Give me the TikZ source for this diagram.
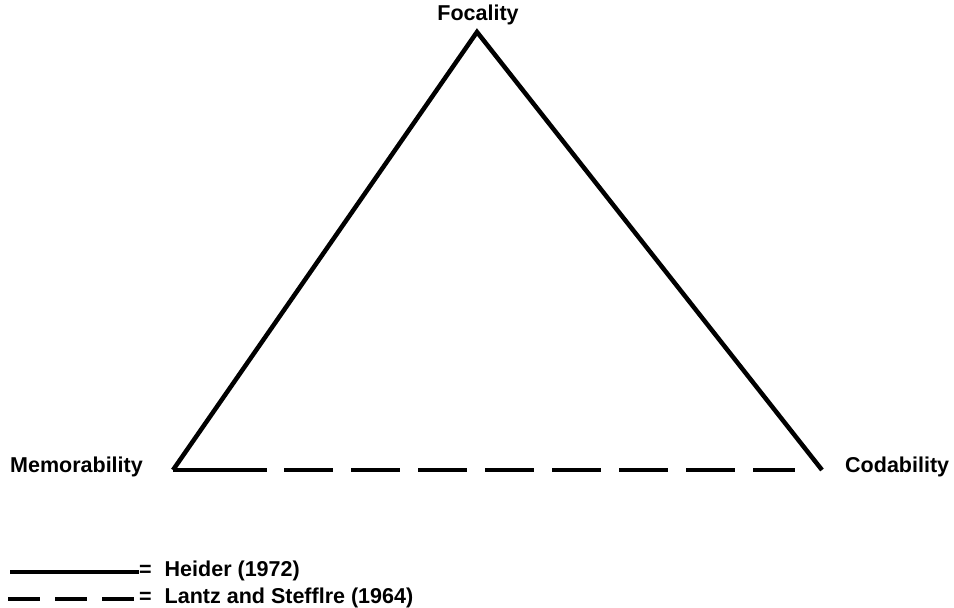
\documentclass[tikz,border=0pt]{standalone}
\usepackage{fontspec}
\setmainfont{Liberation Sans}

\begin{document}
\begin{tikzpicture}[
  font=\fontsize{21.5}{25}\selectfont\bfseries,
  % Work in pixels of the original figure, y runs downward:
  x=1pt,
  y=-1pt,
  heider/.style={line width=4.5pt, line join=miter},
  lantz/.style={line width=4.5pt,
    dash pattern=on 94pt off 17pt on 49pt off 18pt on 49pt off 18pt
                 on 49pt off 18pt on 49pt off 18pt on 49pt off 18pt
                 on 49pt off 18pt on 49pt off 18pt on 42pt off 40pt},
  lbl/.style={inner sep=0pt, anchor=base}
]

\useasboundingbox (0,0) rectangle (954,608);

% 1) Corners of the triangle
\coordinate (foc) at (477,32);
\coordinate (mem) at (173,470);
\coordinate (cod) at (822,470);

% Labels at the corners
\node[lbl] (focality) at (478,20) {Focality};
\node[lbl, anchor=base west] (memorability) at (10,472) {Memorability};
\node[lbl, anchor=base west] (codability) at (845,472) {Codability};

% 2) Two solid sides (Heider)
\draw[heider] (cod) -- (foc) -- (mem);

% 3) Dashed base (Lantz and Stefflre)
\draw[lantz] (mem) -- (cod);

% 4) Legend at the bottom left
\node[lbl, anchor=base west] (heiderkey) at (139,576) {=\hspace{7pt} Heider (1972)};
\node[lbl, anchor=base west] (lantzkey) at (139,603) {=\hspace{7pt} Lantz and Stefflre (1964)};
\coordinate (hstart) at (10,572);
\coordinate (lstart) at (8,599);
\draw[line width=4.5pt] (hstart) -- (hstart -| heiderkey.west);
\draw[line width=4.5pt, dash pattern=on 32pt off 15pt] (lstart) -- (lstart -| lantzkey.west);

\end{tikzpicture}
\end{document}
